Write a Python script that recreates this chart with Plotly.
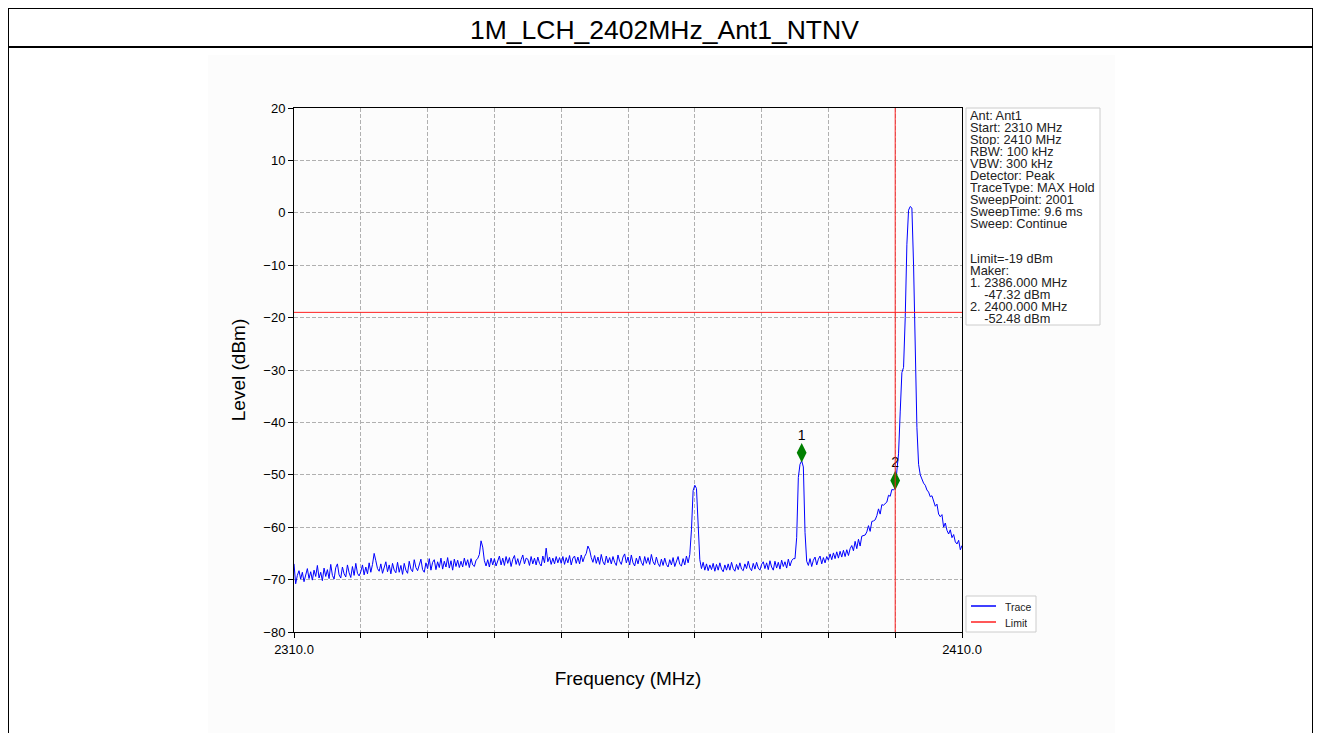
import numpy as np
import plotly.graph_objects as go

# ---------------- data ----------------
title_text = "1M_LCH_2402MHz_Ant1_NTNV"
freq_start = 2310.0
freq_stop = 2410.0
limit_level = -19.0
marker_freqs = [2386.0, 2400.0]
marker_plot_levels = [-45.8, -51.1]
marker_names = ["1", "2"]
vline_freq = 2400.0
legend_names = ["Trace", "Limit"]

levels = [
    -67.0, -70.8, -69.2, -68.3, -69.9, -68.6, -70.4, -69.3, -67.9, -69.8, -68.5, -70.1, -68.2, -69.4, -67.3, -69.7, -68.6, -70.2, -67.8, -69.4,
    -68.1, -69.8, -67.1, -69.2, -69.9, -67.7, -67.0, -69.1, -69.7, -67.6, -68.9, -69.5, -67.2, -68.7, -69.6, -67.5, -69.2, -66.9, -68.8, -69.3,
    -68.5, -67.2, -69.1, -67.6, -68.9, -66.8, -68.6, -67.1, -65.0, -66.4, -67.9, -68.4, -67.0, -68.8, -67.5, -66.6, -68.5, -67.2, -68.9, -66.9,
    -68.2, -68.7, -66.7, -68.6, -67.3, -69.0, -66.9, -68.2, -68.8, -66.5, -68.0, -68.5, -66.2, -67.7, -68.3, -67.0, -66.1, -68.1, -68.6, -66.8,
    -67.9, -66.0, -68.2, -66.7, -66.2, -68.1, -66.6, -67.7, -65.9, -68.0, -66.5, -67.6, -65.8, -67.8, -66.4, -68.2, -66.1, -67.5, -66.3, -67.7,
    -66.5, -67.6, -65.9, -67.3, -66.2, -67.7, -66.0, -67.2, -67.5, -66.3, -66.0, -65.2, -62.6, -63.8, -66.4, -67.4, -66.2, -67.6, -65.9, -67.2,
    -66.0, -67.4, -66.2, -65.5, -67.2, -65.9, -67.3, -65.6, -66.9, -65.8, -67.5, -66.1, -65.4, -67.1, -66.0, -67.3, -66.2, -65.3, -67.0, -65.9,
    -66.1, -67.3, -65.6, -67.0, -65.9, -67.2, -65.7, -66.9, -67.4, -65.5, -66.8, -64.0, -66.6, -65.7, -67.1, -65.9, -67.0, -65.6, -66.8, -65.8,
    -66.9, -65.6, -67.1, -65.8, -66.8, -65.4, -67.2, -65.9, -65.5, -66.9, -65.7, -67.0, -65.3, -66.6, -65.6, -65.0, -63.6, -64.3, -65.8, -66.7,
    -65.4, -66.9, -65.7, -67.1, -65.2, -66.6, -67.2, -65.5, -66.8, -65.8, -67.0, -65.6, -66.7, -67.3, -65.3, -66.5, -67.1, -65.7, -65.1, -66.8,
    -65.7, -67.2, -65.3, -66.8, -67.4, -65.9, -67.0, -65.5, -66.7, -67.3, -65.6, -66.9, -65.8, -67.1, -65.2, -66.6, -67.2, -65.7, -66.9, -67.5,
    -66.1, -67.3, -65.9, -67.1, -67.6, -66.2, -67.2, -65.8, -67.5, -66.3, -65.6, -67.1, -67.4, -66.0, -67.2, -65.5, -66.8, -65.2, -60.5, -53.0,
    -52.0, -52.6, -59.5, -66.2, -67.9, -66.7, -68.2, -67.0, -68.3, -67.2, -68.1, -66.9, -68.4, -67.1, -68.2, -66.8, -68.0, -68.5, -67.2, -68.2,
    -67.0, -68.2, -66.7, -67.9, -68.4, -67.1, -68.1, -66.8, -68.0, -68.3, -67.0, -67.9, -66.5, -67.8, -68.3, -66.9, -68.0, -66.7, -67.8, -68.2,
    -67.1, -66.6, -67.9, -66.8, -68.1, -66.4, -67.6, -68.2, -66.5, -67.8, -66.7, -68.0, -66.3, -67.5, -66.6, -67.8, -66.1, -67.4, -66.4, -66.0,
    -66.0, -62.0, -50.5, -48.0, -47.32, -48.5, -61.0, -66.5, -67.3, -66.0, -67.5, -66.3, -65.7, -67.2, -66.1, -65.5, -67.0, -65.8, -66.8, -65.6,
    -66.3, -65.1, -66.2, -64.9, -66.0, -64.7, -65.9, -64.6, -65.7, -64.4, -65.6, -64.3, -65.4, -64.1, -63.5, -64.5, -62.7, -64.1, -62.3, -63.6,
    -61.7, -61.6, -61.5, -60.9, -59.7, -60.8, -58.9, -58.8, -58.6, -57.8, -56.5, -57.5, -55.7, -55.8, -55.5, -55.2, -53.9, -54.1, -52.8, -52.9,
    -52.48, -49.0, -46.0, -38.0, -30.5, -29.5, -20.0, -6.0, 0.5, 1.2, 0.9, -10.0, -29.0, -41.0, -48.0, -50.0, -50.8, -51.6, -52.0, -52.9,
    -53.3, -54.2, -54.0, -55.3, -56.0, -55.6, -57.5, -58.0, -57.6, -60.0, -59.2, -60.6, -61.3, -60.5, -62.0, -61.4, -62.8, -63.2, -62.5, -64.3,
    -63.5,
]

info_lines = [
    "Ant: Ant1", "Start: 2310 MHz", "Stop: 2410 MHz", "RBW: 100 kHz", "VBW: 300 kHz",
    "Detector: Peak", "TraceType: MAX Hold", "SweepPoint: 2001", "SweepTime: 9.6 ms",
    "Sweep: Continue", "", "", "Limit=-19 dBm", "Maker:", "1. 2386.000 MHz",
    "    -47.32 dBm", "2. 2400.000 MHz", "    -52.48 dBm",
]

x_tickvals = [2310, 2320, 2330, 2340, 2350, 2360, 2370, 2380, 2390, 2400, 2410]
x_ticktext = ["2310.0", "", "", "", "", "", "", "", "", "", "2410.0"]
y_tickvals = [-80, -70, -60, -50, -40, -30, -20, -10, 0, 10, 20]

freqs = np.linspace(freq_start, freq_stop, len(levels))

# ---------------- layout helpers ----------------
OFF = 8  # page body margin of the generated html
W, H = 1321 - OFF, 733 - OFF
L, R, T, B = 294 - OFF, 962 - OFF, 108 - OFF, 632 - OFF


def px(x):
    return (x - OFF - L) / (R - L)


def py(y):
    return (B - (y - OFF)) / (B - T)


FONT = "Liberation Sans, Arial, sans-serif"
TRACE_COLOR = "#0000ff"
LIMIT_COLOR = "#ff2020"

fig = go.Figure()

fig.add_trace(go.Scatter(x=freqs, y=levels, mode="lines", name=legend_names[0],
                         line=dict(color=TRACE_COLOR, width=1), showlegend=False))
fig.add_trace(go.Scatter(x=[freq_start, freq_stop], y=[limit_level, limit_level],
                         mode="lines", name=legend_names[1],
                         line=dict(color=LIMIT_COLOR, width=1), showlegend=False))
fig.add_trace(go.Scatter(x=marker_freqs, y=marker_plot_levels, mode="markers+text",
                         text=marker_names, textposition="top center",
                         textfont=dict(size=14, color="black", family=FONT),
                         marker=dict(symbol="diamond-tall", size=14, color="#008000",
                                     line=dict(width=0)),
                         showlegend=False))

shapes = []
shapes.append(dict(type="rect", xref="paper", yref="paper", layer="below",
                   x0=px(208), x1=px(1115), y0=py(740), y1=py(55),
                   fillcolor="#fcfcfc", line=dict(width=0)))
shapes.append(dict(type="rect", xref="paper", yref="paper",
                   x0=px(8), x1=px(1313), y0=py(745), y1=py(8),
                   line=dict(color="black", width=2)))
shapes.append(dict(type="line", xref="paper", yref="paper",
                   x0=px(8), x1=px(1313), y0=py(47), y1=py(47),
                   line=dict(color="black", width=2)))
shapes.append(dict(type="line", xref="x", yref="paper", x0=vline_freq, x1=vline_freq,
                   y0=0, y1=1, line=dict(color=LIMIT_COLOR, width=1)))
# info box
shapes.append(dict(type="rect", xref="paper", yref="paper",
                   x0=px(966), x1=px(1100), y0=py(325), y1=py(108),
                   line=dict(color="#cccccc", width=1), fillcolor="white"))
# legend box
shapes.append(dict(type="rect", xref="paper", yref="paper",
                   x0=px(966), x1=px(1036), y0=py(632), y1=py(596),
                   line=dict(color="#cccccc", width=1), fillcolor="white"))

annotations = []
annotations.append(dict(text=title_text, xref="paper", yref="paper",
                        x=px(664), y=py(30), xanchor="center", yanchor="middle",
                        showarrow=False, font=dict(size=26.5, family=FONT, color="black")))
for i, line in enumerate(info_lines):
    if not line:
        continue
    annotations.append(dict(text=line.replace(" ", "&nbsp;") if line.startswith(" ") else line,
                            xref="paper", yref="paper", height=12, borderpad=0,
                            x=px(969), y=py(115.5 + i * 11.9), xanchor="left", yanchor="middle",
                            showarrow=False, font=dict(size=12.8, family=FONT, color="#222222")))

legend_colors = [TRACE_COLOR, LIMIT_COLOR]
for i, (name, col) in enumerate(zip(legend_names, legend_colors)):
    yy = 606 + i * 16
    shapes.append(dict(type="line", xref="paper", yref="paper",
                       x0=px(971), x1=px(996), y0=py(yy), y1=py(yy),
                       line=dict(color=col, width=1.5)))
    annotations.append(dict(text=name, xref="paper", yref="paper", height=13, borderpad=0,
                            x=px(1004), y=py(yy), xanchor="left", yanchor="middle",
                            showarrow=False, font=dict(size=10.5, family=FONT, color="#222222")))

fig.update_layout(
    width=W, height=H, autosize=False,
    margin=dict(l=L, r=W - R, t=T, b=H - B, pad=0),
    paper_bgcolor="white", plot_bgcolor="white",
    shapes=shapes, annotations=annotations,
    font=dict(family=FONT, color="black"),
    showlegend=False,
)

fig.update_xaxes(range=[freq_start, freq_stop], tickmode="array",
                 tickvals=x_tickvals, ticktext=x_ticktext,
                 showgrid=True, gridcolor="#b0b0b0", griddash="4px,2px", gridwidth=1,
                 showline=True, linecolor="black", linewidth=1, mirror=True,
                 ticks="outside", ticklen=5, tickcolor="black",
                 tickfont=dict(size=13, family=FONT),
                 title=dict(text="Frequency (MHz)", font=dict(size=19, family=FONT), standoff=16),
                 zeroline=False)
fig.update_yaxes(range=[-80, 20], tickmode="array", tickvals=y_tickvals,
                 showgrid=True, gridcolor="#b0b0b0", griddash="4px,2px", gridwidth=1,
                 showline=True, linecolor="black", linewidth=1, mirror=True,
                 ticks="outside", ticklen=5, tickcolor="black",
                 tickfont=dict(size=13, family=FONT),
                 title=dict(text="Level (dBm)", font=dict(size=19, family=FONT), standoff=12),
                 zeroline=False)

fig.write_html("out.html")
